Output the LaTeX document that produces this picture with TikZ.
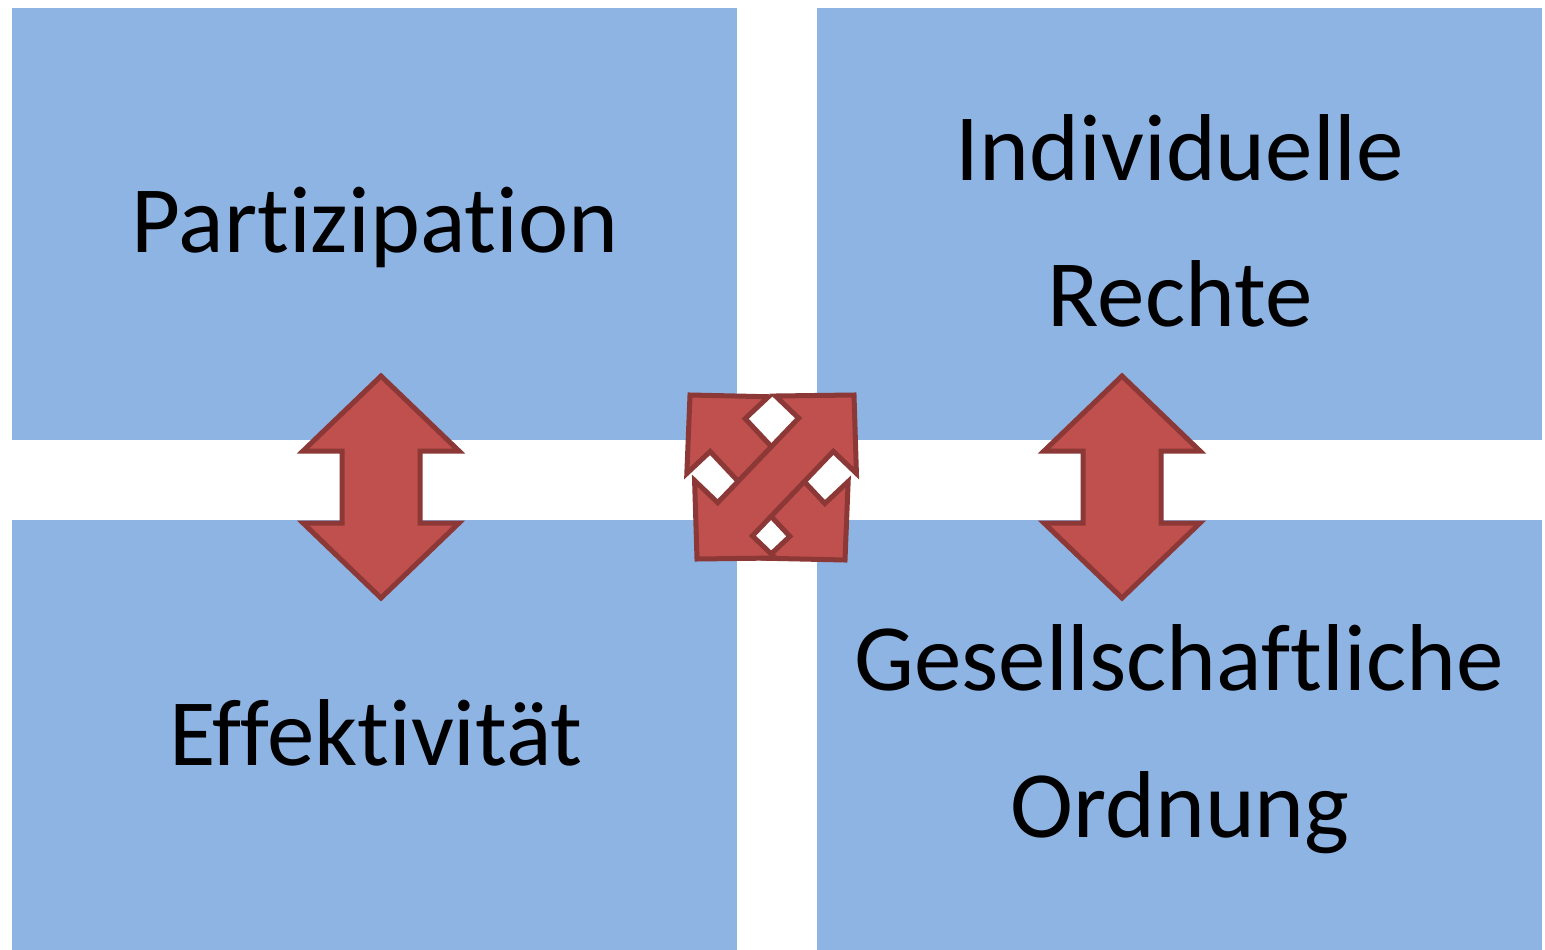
\documentclass[tikz,border=0pt]{standalone}
\usepackage{fontspec}
\setmainfont{Carlito}[Ligatures={NoCommon,NoContextual}, RawFeature={-liga;-dlig;-clig}]
\usetikzlibrary{calc}
\definecolor{boxblue}{HTML}{8EB4E3}
\definecolor{arrowred}{HTML}{C0504D}
\definecolor{arrowline}{HTML}{8C3836}
\tikzset{
  panel/.style={fill=boxblue, draw=none},
  label/.style={font=\fontsize{95}{114}\selectfont, inner sep=0pt, anchor=base},
  redarrow/.style={fill=arrowred, draw=arrowline, line width=5pt, line join=miter},
}
\newcommand{\dblarrow}[5]{% A, B, head length, head half width, shaft half width
  \draw[redarrow]
    (#1)
    -- ($($(#1)!#3!(#2)$)!#4!90:(#2)$)
    -- ($($(#1)!#3!(#2)$)!#5!90:(#2)$)
    -- ($($(#2)!#3!(#1)$)!#5!-90:(#1)$)
    -- ($($(#2)!#3!(#1)$)!#4!-90:(#1)$)
    -- (#2)
    -- ($($(#2)!#3!(#1)$)!#4!90:(#1)$)
    -- ($($(#2)!#3!(#1)$)!#5!90:(#1)$)
    -- ($($(#1)!#3!(#2)$)!#5!-90:(#2)$)
    -- ($($(#1)!#3!(#2)$)!#4!-90:(#2)$)
    -- cycle;
}
\begin{document}
\begin{tikzpicture}[x=1pt, y=-1pt]
  \useasboundingbox[fill=white] (0,0) rectangle (1545,950);
  % panels
  \fill[panel] (12,8) rectangle (737,440);
  \fill[panel] (817,8) rectangle (1542,440);
  \fill[panel] (12,520) rectangle (737,950);
  \fill[panel] (817,520) rectangle (1542,950);
  % texts
  \node[label] (part) at (375,252) {Partizipation};
  \node[label] (eff) at (376,765) {Effektivität};
  \node[label] (ind) at (1180,180) {Individuelle};
  \node[label] (rech) at (1180,326) {Rechte};
  \node[label] (ges) at (1179,690) {Gesellschaftliche};
  \node[label] (ord) at (1180,837) {Ordnung};
  % vertical double arrows
  \coordinate (lt) at (381,376);
  \coordinate (lb) at (381,598);
  \coordinate (rt) at (1122,376);
  \coordinate (rb) at (1122,598);
  \dblarrow{lt}{lb}{75pt}{78pt}{39pt}
  \dblarrow{rt}{rb}{75pt}{78pt}{39pt}
  % crossing arrows
  \coordinate (nw) at (690,395);
  \coordinate (se) at (845,560);
  \coordinate (ne) at (854,395);
  \coordinate (sw) at (697,559);
  \dblarrow{nw}{se}{55pt}{56pt}{24pt}
  \dblarrow{sw}{ne}{55pt}{56pt}{24pt}
\end{tikzpicture}
\end{document}
